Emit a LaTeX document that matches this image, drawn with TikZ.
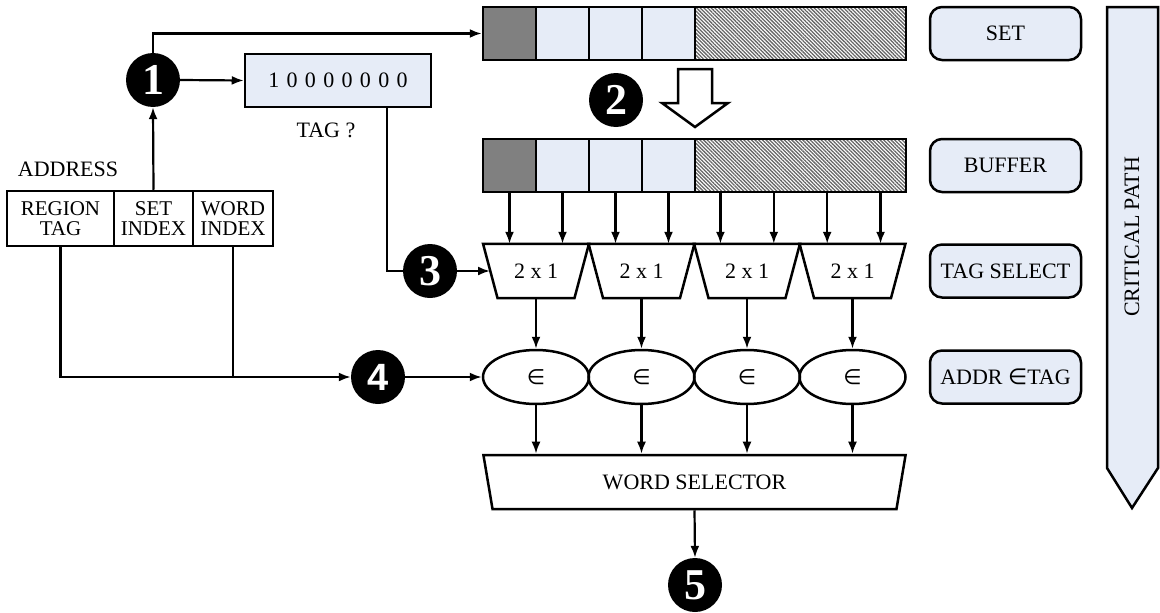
\documentclass[tikz,border=0pt]{standalone}
\usepackage{fontspec}
\setmainfont{Liberation Serif}
\newfontfamily\digitsans{Liberation Sans}
\newfontfamily\symsans{DejaVu Sans}
\usetikzlibrary{arrows.meta,calc,shapes.geometric,patterns.meta}

\definecolor{cellblue}{RGB}{230,236,247}
\definecolor{cellgray}{RGB}{128,128,128}

\tikzstyle{every node}=[font=\fontsize{22}{20}\selectfont]
\tikzstyle{box}=[draw, line width=2.5pt, inner sep=0pt]
\tikzstyle{wire}=[line width=2.2pt]
\tikzstyle{flow}=[line width=2.2pt, -{Latex[length=12pt,width=9pt]}]
\tikzstyle{field}=[box, fill=white, minimum height=55pt, align=center, font=\fontsize{21}{19.5}\selectfont]
\tikzstyle{cell}=[box, fill=cellblue, minimum width=53pt, minimum height=53pt]
\tikzstyle{darkcell}=[cell, fill=cellgray]
\tikzstyle{hatchcell}=[box, minimum width=211pt, minimum height=53pt, pattern={Lines[angle=-45,distance=2.6pt,line width=1.3pt]}, pattern color=black!60]
\tikzstyle{stepdot}=[circle, fill=black, text=white, minimum size=54pt, inner sep=0pt, font=\fontsize{44}{44}\selectfont\bfseries]
\tikzstyle{mux}=[inner sep=0pt, minimum width=105.5pt, minimum height=54pt]
\tikzstyle{muxedge}=[line width=2.5pt, line join=miter]
\tikzstyle{member}=[box, ellipse, minimum width=106pt, minimum height=54pt, font=\fontsize{21}{21}\selectfont]
\tikzstyle{stagelbl}=[box, fill=cellblue, rounded corners=12pt, minimum width=151pt, minimum height=53pt]
\newcommand{\elemof}{{\symsans ∈}}

\begin{document}
\begin{tikzpicture}[x=1pt,y=-1pt]
\useasboundingbox (0,0) rectangle (1160,613);

% address fields
\node at (68,169) (addrlbl) {ADDRESS};
\node[field, minimum width=107pt] (addrreg) at (60.5,218.5) {REGION\\TAG};
\node[field, minimum width=79pt] (addrset) at (153.5,218.5) {SET\\INDEX};
\node[field, minimum width=80pt] (addrword) at (233,218.5) {WORD\\INDEX};

% step 1 and tag register
\node[stepdot] (s1) at (153,80) {1};
\node[box, fill=cellblue, minimum width=186pt, minimum height=53pt] (tagreg) at (338,80.5) {1\,\,0\,\,0\,\,0\,\,0\,\,0\,\,0\,\,0};
\node (tagq) at (326,130) {TAG ?};

% set row
\node[darkcell] (setc0) at (509.5,33.5) {};
\node[cell] (setc1) at (562.5,33.5) {};
\node[cell] (setc2) at (615.5,33.5) {};
\node[cell] (setc3) at (668.5,33.5) {};
\node[hatchcell] (setc4) at (800.5,33.5) {};

% step 2
\node[stepdot] (s2) at (616,100) {2};
\draw[line width=2.5pt, fill=white] (678,69) -- (712,69) -- (712,103) -- (728,103) -- (695,127) -- (662,103) -- (678,103) -- cycle;

% buffer row
\node[darkcell] (bufc0) at (509.5,165.5) {};
\node[cell] (bufc1) at (562.5,165.5) {};
\node[cell] (bufc2) at (615.5,165.5) {};
\node[cell] (bufc3) at (668.5,165.5) {};
\node[hatchcell] (bufc4) at (800.5,165.5) {};

% tag select
\node[stepdot] (s3) at (430,271) {3};
\node[mux] (mux1) at (536,271) {2 x 1};
\node[mux] (mux2) at (641.5,271) {2 x 1};
\node[mux] (mux3) at (747,271) {2 x 1};
\node[mux] (mux4) at (852.5,271) {2 x 1};
\draw[muxedge] (mux1.north west) -- (mux1.north east) -- ([xshift=-14.5pt]mux1.south east) -- ([xshift=14.5pt]mux1.south west) -- cycle;
\draw[muxedge] (mux2.north west) -- (mux2.north east) -- ([xshift=-14.5pt]mux2.south east) -- ([xshift=14.5pt]mux2.south west) -- cycle;
\draw[muxedge] (mux3.north west) -- (mux3.north east) -- ([xshift=-14.5pt]mux3.south east) -- ([xshift=14.5pt]mux3.south west) -- cycle;
\draw[muxedge] (mux4.north west) -- (mux4.north east) -- ([xshift=-14.5pt]mux4.south east) -- ([xshift=14.5pt]mux4.south west) -- cycle;

% membership
\node[stepdot, font=\digitsans\fontsize{38}{38}\selectfont\bfseries] (s4) at (378,377) {4};
\node[member] (elem1) at (536,377) {\elemof};
\node[member] (elem2) at (641.5,377) {\elemof};
\node[member] (elem3) at (747,377) {\elemof};
\node[member] (elem4) at (852.5,377) {\elemof};

% word selector
\node[box, trapezium, trapezium angle=74.5, shape border rotate=180, trapezium stretches=true, minimum width=423pt, minimum height=54pt] (wsel) at (694.5,482) {WORD SELECTOR};
\node[stepdot] (s5) at (695,585) {5};

% stage labels
\node[stagelbl] (lblset) at (1005.5,33.5) {SET};
\node[stagelbl] (lblbuf) at (1005.5,165.5) {BUFFER};
\node[stagelbl] (lbltag) at (1005.5,271) {TAG SELECT};
\node[stagelbl] (lbladdr) at (1005.5,377) {ADDR \elemof TAG};

% critical path
\draw[line width=2.5pt, fill=cellblue] (1107,7) -- (1158,7) -- (1158,468) -- (1132,508) -- (1107,468) -- cycle;
\node[rotate=90] (critpath) at (1132,237) {CRITICAL PATH};

% connectors
\draw[flow] (addrset.north) -- (s1.south);
\draw[flow] (s1.north) |- (setc0.west);
\draw[flow] (s1.east) -- (tagreg.west);
\coordinate (tagout) at ($(tagreg.south west)!0.76!(tagreg.south east)$);
\draw[wire] (tagout) |- (s3.west);
\draw[flow] (s3.east) -- ([xshift=7pt]mux1.west);
\draw[flow] (addrreg.south) |- (s4.west);
\draw[wire] (addrword.south) -- (addrword.south |- s4.west);
\draw[flow] (s4.east) -- (elem1.west);

\coordinate (tap4) at ($(bufc4.south west)!0.125!(bufc4.south east)$);
\coordinate (tap5) at ($(bufc4.south west)!0.375!(bufc4.south east)$);
\coordinate (tap6) at ($(bufc4.south west)!0.625!(bufc4.south east)$);
\coordinate (tap7) at ($(bufc4.south west)!0.875!(bufc4.south east)$);
\draw[flow] (bufc0.south) -- (bufc0.south |- mux1.north);
\draw[flow] (bufc1.south) -- (bufc1.south |- mux1.north);
\draw[flow] (bufc2.south) -- (bufc2.south |- mux2.north);
\draw[flow] (bufc3.south) -- (bufc3.south |- mux2.north);
\draw[flow] (tap4) -- (tap4 |- mux3.north);
\draw[flow] (tap5) -- (tap5 |- mux3.north);
\draw[flow] (tap6) -- (tap6 |- mux4.north);
\draw[flow] (tap7) -- (tap7 |- mux4.north);

\draw[flow] (mux1.south) -- (elem1.north);
\draw[flow] (mux2.south) -- (elem2.north);
\draw[flow] (mux3.south) -- (elem3.north);
\draw[flow] (mux4.south) -- (elem4.north);

\draw[flow] (elem1.south) -- (elem1.south |- wsel.north);
\draw[flow] (elem2.south) -- (elem2.south |- wsel.north);
\draw[flow] (elem3.south) -- (elem3.south |- wsel.north);
\draw[flow] (elem4.south) -- (elem4.south |- wsel.north);
\draw[flow] (wsel.south) -- (s5.north);
\end{tikzpicture}
\end{document}
